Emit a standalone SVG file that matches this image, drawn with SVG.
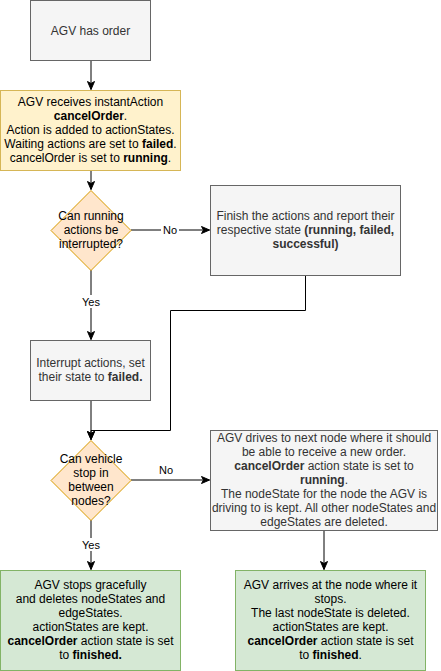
<svg xmlns="http://www.w3.org/2000/svg" width="441" height="671" viewBox="0 0 441 671">
<defs>
<style>
text{font-family:"Liberation Sans",Arial,Helvetica,sans-serif;font-size:12px;text-anchor:middle}
.gray{fill:#f5f5f5;stroke:#666666;stroke-width:1}
.gray-t{fill:#333333}
.yel{fill:#fff2cc;stroke:#d6b656;stroke-width:1}
.ora{fill:#ffe6cc;stroke:#d79b00;stroke-width:1}
.grn{fill:#d5e8d4;stroke:#82b366;stroke-width:1}
.dark{fill:#000000}
.b{font-weight:bold}
.edge{fill:none;stroke:#000000;stroke-width:1}
.lbl{font-size:11px;fill:#000000}
</style>
<marker id="arr" markerUnits="userSpaceOnUse" markerWidth="10" markerHeight="10" viewBox="0 0 10 10" refX="9" refY="5" orient="auto">
<path d="M1,1.5 L9,5 L1,8.5 L3,5 Z" fill="#000000" stroke="#000000" stroke-width="1"/>
</marker>
</defs>

<g id="connectors">
<path class="edge" d="M91,60.5 V89.5" marker-end="url(#arr)"/>
<path class="edge" d="M91,170.5 V189.5" marker-end="url(#arr)"/>
<path class="edge" d="M131,230 H209.5" marker-end="url(#arr)"/>
<rect x="161" y="223" width="18" height="13" fill="#ffffff"/>
<text class="lbl" x="170" y="234">No</text>
<path class="edge" d="M91,270 V339.5" marker-end="url(#arr)"/>
<rect x="81" y="295" width="20" height="13" fill="#ffffff"/>
<text class="lbl" x="91" y="306">Yes</text>
<path class="edge" d="M305.5,275.5 V310.5 H170.5 V430.5 H91 V439.5" marker-end="url(#arr)"/>
<path class="edge" d="M91,400.5 V439.5" marker-end="url(#arr)"/>
<path class="edge" d="M131,480 H209.5" marker-end="url(#arr)"/>
<text class="lbl" x="166" y="474">No</text>
<path class="edge" d="M91,520 V569.5" marker-end="url(#arr)"/>
<rect x="81" y="538" width="20" height="13" fill="#ffffff"/>
<text class="lbl" x="91" y="549">Yes</text>
<path class="edge" d="M324,530.5 V569.5" marker-end="url(#arr)"/>
</g>

<g id="n1">
<rect class="gray" x="30.5" y="0.5" width="120" height="60"/>
<text class="gray-t" x="90.5" y="35">AGV has order</text>
</g>

<g id="n2">
<rect class="yel" x="0.5" y="90.5" width="180" height="80"/>
<text class="dark" x="90.5" y="106">AGV receives instantAction</text>
<text class="dark" x="90.5" y="120"><tspan class="b">cancelOrder</tspan>.</text>
<text class="dark" x="90.5" y="134">Action is added to actionStates.</text>
<text class="dark" x="90.5" y="148">Waiting actions are set to <tspan class="b">failed</tspan>.</text>
<text class="dark" x="90.5" y="162">cancelOrder is set to <tspan class="b">running</tspan>.</text>
</g>

<g id="d1">
<path class="ora" d="M91,190.5 L131,230.5 L91,270.5 L51,230.5 Z"/>
<text class="dark" x="91" y="220">Can running</text>
<text class="dark" x="91" y="234">actions be</text>
<text class="dark" x="91" y="248">interrupted?</text>
</g>

<g id="n3">
<rect class="gray" x="210.5" y="185.5" width="190" height="90"/>
<text class="gray-t" x="305.5" y="220">Finish the actions and report their</text>
<text class="gray-t" x="305.5" y="234">respective state <tspan class="b">(running, failed,</tspan></text>
<text class="gray-t b" x="305.5" y="248">successful)</text>
</g>

<g id="n4">
<rect class="gray" x="30.5" y="340.5" width="120" height="60"/>
<text class="gray-t" x="90.5" y="367">Interrupt actions, set</text>
<text class="gray-t" x="90.5" y="381">their state to <tspan class="b">failed.</tspan></text>
</g>

<g id="d2">
<path class="ora" d="M91,440.5 L131,480.5 L91,520.5 L51,480.5 Z"/>
<text class="dark" x="91" y="463">Can vehicle</text>
<text class="dark" x="91" y="477">stop in</text>
<text class="dark" x="91" y="491">between</text>
<text class="dark" x="91" y="505">nodes?</text>
</g>

<g id="n5">
<rect class="gray" x="210.5" y="430.5" width="227" height="100"/>
<text class="gray-t" x="324" y="442">AGV drives to next node where it should</text>
<text class="gray-t" x="324" y="456">be able to receive a new order.</text>
<text class="gray-t" x="324" y="470"><tspan class="b">cancelOrder</tspan> action state is set to</text>
<text class="gray-t" x="324" y="484"><tspan class="b">running</tspan>.</text>
<text class="gray-t" x="324" y="498">The nodeState for the node the AGV is</text>
<text class="gray-t" x="324" y="512">driving to is kept. All other nodeStates and</text>
<text class="gray-t" x="324" y="526">edgeStates are deleted.</text>
</g>

<g id="n6">
<rect class="grn" x="0.5" y="570.5" width="180" height="100"/>
<text class="dark" x="90.5" y="589">AGV stops gracefully</text>
<text class="dark" x="90.5" y="603">and deletes nodeStates and</text>
<text class="dark" x="90.5" y="617">edgeStates.</text>
<text class="dark" x="90.5" y="631">actionStates are kept.</text>
<text class="dark" x="90.5" y="645"><tspan class="b">cancelOrder</tspan> action state is set</text>
<text class="dark" x="90.5" y="659">to <tspan class="b">finished.</tspan></text>
</g>

<g id="n7">
<rect class="grn" x="235.5" y="570.5" width="190" height="100"/>
<text class="dark" x="330.5" y="589">AGV arrives at the node where it</text>
<text class="dark" x="330.5" y="603">stops.</text>
<text class="dark" x="330.5" y="617">The last nodeState is deleted.</text>
<text class="dark" x="330.5" y="631">actionStates are kept.</text>
<text class="dark" x="330.5" y="645"><tspan class="b">cancelOrder</tspan> action state is set</text>
<text class="dark" x="330.5" y="659">to <tspan class="b">finished</tspan>.</text>
</g>
</svg>
